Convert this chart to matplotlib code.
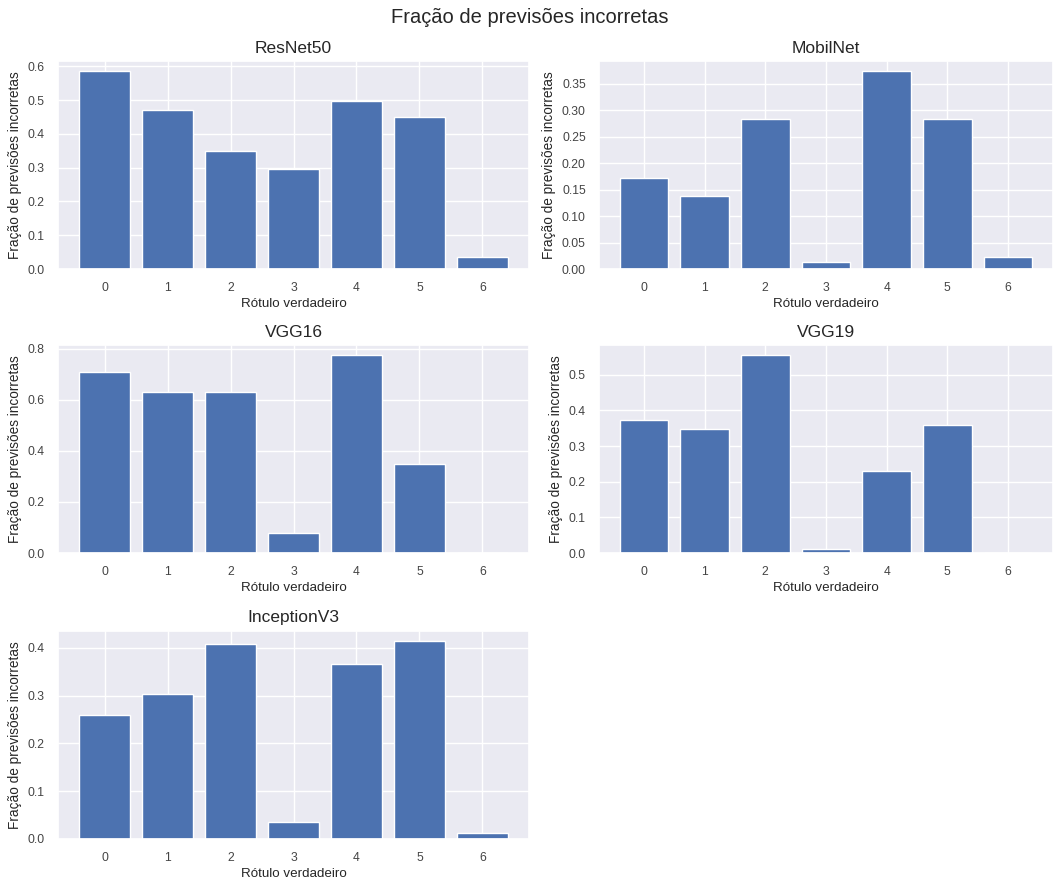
import numpy as np
import matplotlib
matplotlib.use('Agg')
import matplotlib.pyplot as plt
import seaborn as sns

sns.set_theme(style='darkgrid')
plt.rcParams['font.family'] = ['Liberation Sans', 'DejaVu Sans']

# Fraction of wrong predictions per true label, for each network
labels = [0, 1, 2, 3, 4, 5, 6]
resnet50 = [0.587, 0.472, 0.349, 0.296, 0.498, 0.449, 0.035]
mobilnet = [0.172, 0.138, 0.283, 0.014, 0.375, 0.283, 0.022]
vgg16 = [0.707, 0.630, 0.630, 0.078, 0.776, 0.349, 0.0]
vgg19 = [0.374, 0.348, 0.556, 0.010, 0.229, 0.360, 0.0]
inception_v3 = [0.259, 0.303, 0.408, 0.036, 0.366, 0.415, 0.012]

model_names = ['ResNet50', 'MobilNet', 'VGG16', 'VGG19', 'InceptionV3']
model_errors = [resnet50, mobilnet, vgg16, vgg19, inception_v3]

fig, axes = plt.subplots(3, 2, figsize=(10.59, 8.82), dpi=100)
fig.suptitle('Fração de previsões incorretas', fontsize=14.5, y=0.98, va='center')

# axes boxes in figure fractions [left, bottom, width, height]
col_x = [(0.0548, 0.4447), (0.5656, 0.4287)]
row_y = [0.695, 0.373, 0.0488]
row_h = 0.236

for i, ax in enumerate(axes.flat):
    r, c = divmod(i, 2)
    ax.set_position([col_x[c][0], row_y[r], col_x[c][1], row_h])
    if i >= len(model_names):
        ax.remove()
        continue
    ax.bar(labels, model_errors[i], color='#4C72B0')
    ax.set_title(model_names[i], fontsize=12.5)
    ax.set_xlabel('Rótulo verdadeiro', fontsize=9.6, labelpad=3)
    ax.set_ylabel('Fração de previsões incorretas', fontsize=9.8)
    ax.set_xticks(labels)
    ax.tick_params(labelsize=8.7, labelcolor='#444444')

fig.savefig('out.png', dpi=100)
